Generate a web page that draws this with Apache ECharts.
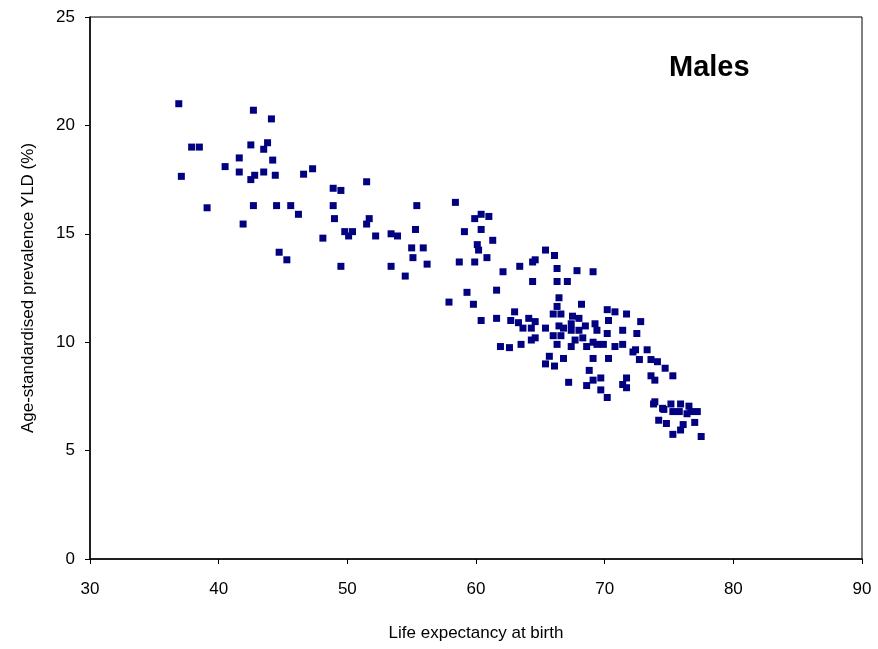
<!DOCTYPE html>
<html>
<head>
<meta charset="utf-8">
<script src="https://cdn.jsdelivr.net/npm/echarts@6/dist/echarts.min.js"></script>
<style>html,body{margin:0;padding:0;background:#fff;}#c{width:878px;height:649px;}</style>
</head>
<body>
<div id="c"></div>
<script>
// Life expectancy at birth (x) and age-standardised prevalence YLD % (y), males
const lifeExpectancy = [
36.9,42.7,44.1,37.9,38.5,42.5,43.8,43.5,41.6,40.5,44.2,41.6,43.5,42.8,42.5,44.4,46.6,47.3,37.1,48.9,
49.5,39.1,42.7,44.5,45.6,46.2,48.9,49.0,41.9,49.8,50.4,50.1,48.1,44.7,45.3,49.5,
51.5,55.4,58.4,51.7,51.5,52.2,53.4,53.9,55.3,55.0,55.9,55.1,56.2,54.5,53.4,59.1,59.9,60.4,61.0,60.4,
61.3,60.1,60.2,60.85,58.7,59.9,62.1,63.4,59.3,61.6,57.9,59.8,60.4,61.6,62.7,63.0,63.3,
64.4,64.6,65.4,66.1,66.3,67.85,69.1,64.4,66.3,67.1,66.45,68.2,66.3,66.0,66.6,67.5,68.0,70.2,70.8,70.3,
64.1,64.6,63.65,64.3,65.4,66.45,66.8,67.4,68.5,69.25,69.4,67.4,68.0,66.0,66.6,67.7,68.3,69.1,70.2,
64.6,64.3,63.5,66.3,67.4,68.6,69.4,69.9,70.8,61.9,62.6,65.7,66.8,69.1,70.3,65.4,66.1,68.8,69.7,69.1,
68.6,67.2,69.7,70.2,
71.7,72.8,71.4,72.5,71.4,72.2,72.4,73.3,72.7,73.6,74.1,74.7,75.3,71.7,71.4,71.7,73.6,73.9,
73.8,73.9,74.5,74.6,75.15,75.3,75.9,75.8,76.55,76.4,76.7,77.2,74.2,74.8,76.1,75.9,75.3,77.0,77.5
];
const prevalenceYLD = [
21.0,20.7,20.3,19.0,19.0,19.1,19.2,18.9,18.5,18.1,18.4,17.85,17.85,17.7,17.5,17.7,17.75,18.0,17.65,17.1,
17.0,16.2,16.3,16.3,16.3,15.9,16.3,15.7,15.45,15.1,15.1,14.9,14.8,14.15,13.8,13.5,
17.4,16.3,16.45,15.7,15.45,14.9,15.0,14.9,15.2,14.35,14.35,13.9,13.6,13.05,13.5,15.1,15.7,15.9,15.8,15.2,
14.7,14.5,14.25,13.9,13.7,13.7,13.25,13.5,12.3,12.4,11.85,11.75,11.0,11.1,11.0,11.4,10.9,
13.7,13.8,14.25,14.0,13.4,13.3,13.25,12.8,12.8,12.8,12.05,11.75,11.65,11.3,11.3,11.2,11.1,11.5,11.4,11.0,
11.1,10.95,10.65,10.65,10.65,10.75,10.65,10.85,10.75,10.85,10.55,10.55,10.55,10.3,10.3,10.1,10.2,10.0,10.4,
10.2,10.1,9.9,9.9,9.8,9.8,9.9,9.9,9.8,9.8,9.75,9.35,9.25,9.25,9.25,9.0,8.9,8.7,8.35,8.25,
8.0,8.15,7.8,7.45,
11.3,10.95,10.55,10.4,9.9,9.55,9.65,9.65,9.2,9.2,9.1,8.8,8.45,8.35,8.05,7.9,8.45,8.25,
7.15,7.25,6.95,6.9,7.15,6.8,7.15,6.8,7.05,6.7,6.8,6.8,6.4,6.25,6.2,5.95,5.75,6.3,5.65
];
const chartTitle = "Males";
const xAxisName = "Life expectancy at birth";
const yAxisName = "Age-standardised prevalence YLD (%)";

const points = lifeExpectancy.map((x, i) => [x, prevalenceYLD[i]]);
const font = "'Liberation Sans', Arial, sans-serif";

const chart = echarts.init(document.getElementById('c'), null, {renderer: 'canvas'});
chart.setOption({
  animation: false,
  backgroundColor: '#ffffff',
  title: {
    text: chartTitle,
    left: 664, top: 48,
    textStyle: {fontFamily: font, fontWeight: 'bold', fontSize: 29, color: '#000'}
  },
  grid: {
    left: 90, right: 16, top: 17, bottom: 90,
    show: true, borderColor: '#000', borderWidth: 1, backgroundColor: 'transparent'
  },
  xAxis: {
    type: 'value', min: 30, max: 90, interval: 10,
    name: xAxisName, nameLocation: 'middle', nameGap: 66,
    nameTextStyle: {fontFamily: font, fontSize: 17, color: '#000'},
    axisLine: {show: true, onZero: false, lineStyle: {color: '#000', width: 1.5}},
    axisTick: {show: true, inside: false, length: 5, lineStyle: {color: '#000', width: 1}},
    axisLabel: {fontFamily: font, fontSize: 17, color: '#000', margin: 22},
    splitLine: {show: false}
  },
  yAxis: {
    type: 'value', min: 0, max: 25, interval: 5,
    name: yAxisName, nameLocation: 'middle', nameGap: 53,
    nameTextStyle: {fontFamily: font, fontSize: 17, color: '#000'},
    axisLine: {show: true, onZero: false, lineStyle: {color: '#000', width: 1.5}},
    axisTick: {show: true, inside: false, length: 5, lineStyle: {color: '#000', width: 1}},
    axisLabel: {fontFamily: font, fontSize: 17, color: '#000', margin: 15},
    splitLine: {show: false}
  },
  series: [{
    type: 'scatter',
    data: points,
    symbol: 'rect',
    symbolSize: 7,
    itemStyle: {color: '#000080', opacity: 1}
  }]
});
</script>
</body>
</html>
